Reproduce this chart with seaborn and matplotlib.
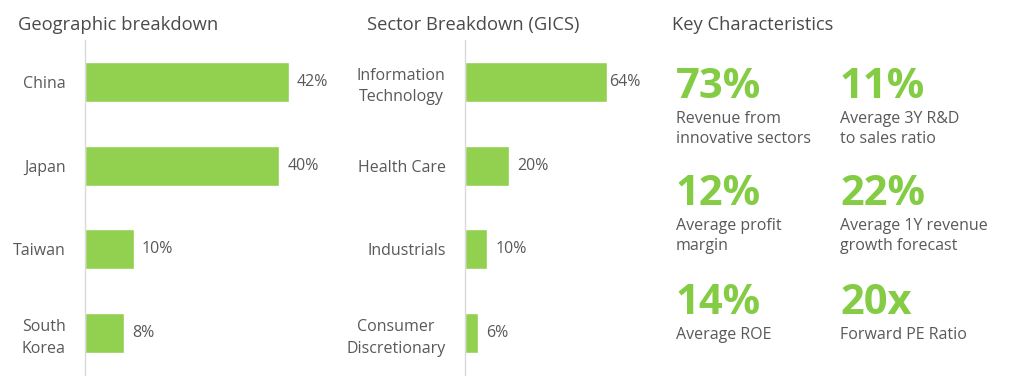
import matplotlib
matplotlib.use("Agg")
import matplotlib.pyplot as plt
import pandas as pd
import seaborn as sns

# Data
geo_labels = ["China", "Japan", "Taiwan", "South\nKorea"]
geo_values = [42, 40, 10, 8]

sector_labels = ["Information\nTechnology", "Health Care", "Industrials", "Consumer\nDiscretionary"]
sector_values = [64, 20, 10, 6]

key_numbers = ["73%", "11%", "12%", "22%", "14%", "20x"]
key_texts = ["Revenue from\ninnovative sectors", "Average 3Y R&D\nto sales ratio",
             "Average profit\nmargin", "Average 1Y revenue\ngrowth forecast",
             "Average ROE", "Forward PE Ratio"]

sns.set_style("white")
plt.rcParams["font.family"] = ["Open Sans", "DejaVu Sans"]

BAR = "#92D050"
NUM = "#84CC44"
GREY = "#595959"
AXIS = "#D9D9D9"

W, H = 1024, 378
fig = plt.figure(figsize=(W / 100, H / 100), dpi=100)


def px(x, y):
    return x / W, 1 - y / H


def draw_bars(left, width_px, xmax, labels, values, pad_first=8):
    # category band spans y=40..375 px
    ax = fig.add_axes([left / W, 3 / H, width_px / W, 335 / H])
    df = pd.DataFrame({"label": labels, "value": values})
    sns.barplot(data=df, x="value", y="label", orient="h", color=BAR,
                width=0.48, saturation=1, ax=ax)
    ax.set_xlim(0, xmax)
    ax.set_ylim(3.5, -0.5)
    for s in ["top", "right", "bottom"]:
        ax.spines[s].set_visible(False)
    ax.spines["left"].set_color(AXIS)
    ax.spines["left"].set_linewidth(1)
    ax.spines["left"].set_clip_on(False)
    ax.set_xticks([])
    ax.set_xlabel("")
    ax.set_ylabel("")
    ax.tick_params(axis="y", which="major", length=0, pad=14,
                   labelsize=11.5, labelcolor=GREY)
    ax.set_yticks([-0.5, 0.5, 1.5, 2.5, 3.5], minor=True)
    ax.tick_params(axis="y", which="minor", length=5, color=AXIS, width=1)
    for lbl in ax.get_yticklabels():
        lbl.set_linespacing(1.45)
        lbl.set_multialignment("center")
    for i, (bar, v) in enumerate(zip(ax.patches, values)):
        pad = pad_first if i == 0 else 8
        ax.annotate(f"{v}%", (bar.get_width(), bar.get_y() + bar.get_height() / 2),
                    xytext=(pad * 0.72, 0), textcoords="offset points",
                    va="center", ha="left", fontsize=11.5, color=GREY)
    return ax


draw_bars(85, 267, 55, geo_labels, geo_values)
draw_bars(465, 180, 81, sector_labels, sector_values, pad_first=2)

# Titles
for x, t in [(18, "Geographic breakdown"), (367, "Sector Breakdown (GICS)"),
             (672, "Key Characteristics")]:
    fig.text(*px(x, 30), t, fontsize=13.2, color="#4A4A4A", va="baseline", ha="left")

# Key characteristics grid
cols = [676, 840]
num_base = [98, 205, 314]
for i, (n, t) in enumerate(zip(key_numbers, key_texts)):
    c, r = i % 2, i // 2
    fig.text(*px(cols[c], num_base[r]), n, fontsize=30, fontweight="bold",
             color=NUM, va="baseline", ha="left")
    fig.text(*px(cols[c], num_base[r] + 13), t, fontsize=11.5, color=GREY,
             va="top", ha="left", linespacing=1.33)

fig.savefig("out.png", dpi=100)
